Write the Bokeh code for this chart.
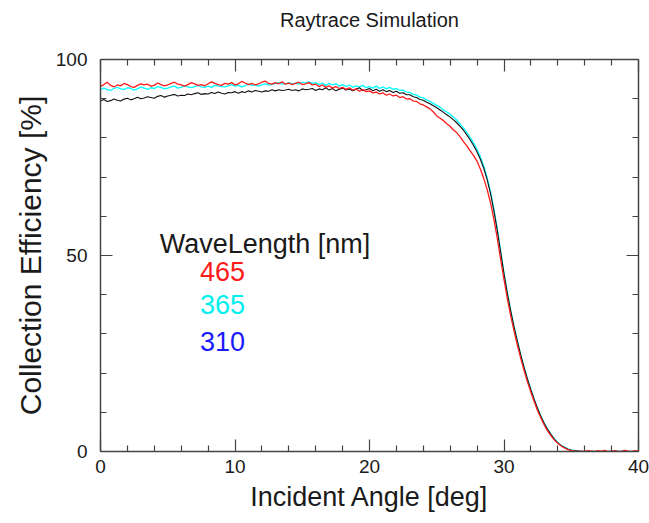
from bokeh.plotting import figure
from bokeh.models import LinearAxis, FixedTicker, Label, Range1d, CustomJSTickFormatter
from bokeh.embed import file_html
from bokeh.resources import INLINE

# ---------------- data ----------------
angle_step = 0.25
n_points = 161  # 0 .. 40 deg

eff_465 = [
    93.1, 93.6, 94.2, 93.4, 93.0, 93.5, 93.3, 93.9,
    93.6, 93.1, 92.9, 93.4, 93.8, 93.5, 93.7, 93.2,
    93.4, 94.0, 93.6, 93.3, 93.5, 93.9, 94.2, 93.7,
    93.5, 93.2, 93.6, 94.1, 93.8, 93.4, 93.6, 93.3,
    93.8, 94.3, 93.9, 93.6, 93.4, 93.9, 93.7, 94.1,
    93.5, 93.8, 94.4, 94.0, 93.6, 93.9, 93.5, 93.8,
    94.2, 94.5, 93.9, 93.7, 94.1, 93.8, 94.3, 93.7,
    94.0, 93.6, 93.9, 94.2, 93.6, 93.8, 94.1, 93.5,
    93.7, 93.1, 93.5, 92.9, 93.3, 92.7, 93.1, 92.6,
    92.9, 92.4, 92.8, 92.2, 92.5, 91.9, 92.3, 91.8,
    92.0, 91.5, 91.7, 91.2, 91.5, 90.9, 91.2, 90.7,
    90.9, 90.3, 90.5, 89.9, 90.0, 89.4, 89.3, 88.7,
    88.4, 87.9, 87.4, 86.6, 85.6, 85.0, 84.4, 83.6,
    82.9, 82.0, 81.3, 80.2, 79.0, 77.9, 76.6, 75.4,
    74.0, 72.0, 69.6, 66.8, 63.4, 59.2, 54.4, 49.0,
    43.9, 39.0, 34.6, 30.7, 27.1, 23.7, 20.6, 17.7,
    15.1, 12.7, 10.4, 8.5, 6.7, 5.2, 4.0, 2.9,
    2.1, 1.4, 0.9, 0.5, 0.3, 0.1, 0.0, 0.1,
    0.0, 0.2, 0.1, 0.0, 0.2, 0.1, 0.3, 0.0,
    0.1, 0.2, 0.0, 0.1, 0.3, 0.1, 0.0, 0.2,
    0.1,
]

eff_365 = [
    92.4, 92.7, 92.3, 92.1, 92.6, 92.9, 92.5, 92.4,
    92.8, 92.6, 92.2, 92.5, 93.0, 92.7, 92.4, 92.8,
    92.6, 93.1, 92.9, 92.5, 92.7, 93.0, 93.2, 92.7,
    92.9, 93.3, 93.0, 92.8, 93.1, 93.4, 93.0, 92.9,
    93.2, 92.9, 93.4, 93.3, 93.1, 93.0, 93.3, 93.6,
    93.2, 93.4, 93.0, 93.3, 93.7, 93.4, 93.5, 93.2,
    93.5, 93.8, 93.5, 93.6, 93.9, 94.1, 93.7, 93.8,
    94.1, 93.8, 94.0, 93.7, 94.2, 94.0, 94.3, 93.9,
    94.1, 93.6, 94.0, 93.4, 93.9, 93.5, 93.8, 93.2,
    93.6, 93.1, 93.5, 92.9, 93.3, 93.0, 93.4, 92.8,
    93.1, 92.7, 93.2, 92.6, 93.0, 92.5, 92.9, 92.4,
    92.6, 92.1, 92.2, 91.7, 91.6, 91.1, 90.9, 90.4,
    90.2, 89.7, 89.3, 88.8, 88.3, 87.8, 87.1, 86.6,
    86.0, 85.3, 84.5, 83.5, 82.5, 81.3, 80.0, 78.6,
    77.0, 75.1, 72.8, 69.8, 66.2, 61.8, 56.8, 51.2,
    45.6, 40.5, 36.0, 31.9, 28.2, 24.6, 21.5, 18.5,
    15.8, 13.3, 11.0, 9.0, 7.2, 5.7, 4.3, 3.2,
    2.3, 1.6, 1.1, 0.7, 0.4, 0.2, 0.1, 0.0,
    0.0, 0.0, 0.1, 0.0, 0.0, 0.0, 0.1, 0.0,
    0.0, 0.0, 0.0, 0.1, 0.0, 0.0, 0.0, 0.0,
    0.0,
]

eff_310 = [
    89.4, 89.8, 89.3, 89.5, 89.9, 89.6, 89.4, 89.9,
    90.1, 89.7, 90.0, 90.4, 90.0, 90.2, 90.5, 90.3,
    90.1, 90.6, 90.8, 90.4, 90.7, 90.9, 91.1, 90.7,
    90.9, 90.8, 91.2, 91.0, 91.3, 91.5, 91.1, 91.3,
    91.2, 91.6, 91.3, 91.7, 91.4, 91.2, 91.6, 91.5,
    91.8, 91.4, 91.8, 91.6, 92.0, 91.7, 92.1, 91.9,
    91.7, 92.0, 91.9, 92.3, 92.0, 92.3, 92.1, 92.2,
    92.4, 92.1, 92.3, 92.0, 92.5, 92.3, 92.4, 92.6,
    92.1, 92.5, 92.3, 92.8, 92.2, 92.6, 92.0, 92.4,
    92.7, 92.2, 92.5, 92.0, 92.4, 92.8, 92.1, 92.3,
    92.6, 92.0, 92.4, 91.9, 92.3, 91.8, 92.1, 91.6,
    91.9, 91.4, 91.5, 91.0, 91.0, 90.5, 90.3, 89.8,
    89.6, 89.1, 88.7, 88.2, 87.7, 87.1, 86.5, 85.9,
    85.3, 84.6, 83.8, 82.9, 81.9, 80.7, 79.4, 78.0,
    76.4, 74.5, 72.2, 69.3, 65.8, 61.4, 56.4, 50.9,
    45.3, 40.3, 35.8, 31.7, 28.0, 24.5, 21.3, 18.4,
    15.7, 13.2, 10.9, 8.9, 7.1, 5.6, 4.3, 3.1,
    2.2, 1.5, 1.0, 0.6, 0.3, 0.2, 0.1, 0.0,
    0.0, 0.0, 0.0, 0.0, 0.0, 0.0, 0.0, 0.0,
    0.0, 0.0, 0.0, 0.0, 0.0, 0.0, 0.0, 0.0,
    0.0,
]

angles = [i * angle_step for i in range(n_points)]

title_text = "Raytrace Simulation"
wavelengths = ["465", "365", "310"]
x_ticks = [0, 10, 20, 30, 40]
x_minor_ticks = [2, 4, 6, 8, 12, 14, 16, 18, 22, 24, 26, 28, 32, 34, 36, 38]
y_ticks = [0, 50, 100]
y_minor_ticks = [10, 20, 30, 40, 60, 70, 80, 90]

# ---------------- figure ----------------
FONT = "Liberation Sans"
AX_COLOR = "#444444"
TXT = "#1a1a1a"

p = figure(width=649, height=523, output_backend="svg", toolbar_location=None, title=None,
           x_range=Range1d(0, 40), y_range=Range1d(0, 100),
           min_border_left=100, min_border_right=11, min_border_top=59, min_border_bottom=72)
p.background_fill_color = "white"
p.border_fill_color = "white"
p.outline_line_color = None
p.xgrid.visible = False
p.ygrid.visible = False

xt = FixedTicker(ticks=x_ticks, minor_ticks=x_minor_ticks)
yt = FixedTicker(ticks=y_ticks, minor_ticks=y_minor_ticks)


def style_axis(ax, show_labels):
    ax.axis_line_color = AX_COLOR
    ax.axis_line_width = 1.5
    ax.major_tick_line_color = AX_COLOR
    ax.minor_tick_line_color = AX_COLOR
    ax.major_tick_line_width = 1.2
    ax.minor_tick_line_width = 1.2
    ax.major_tick_in = 12
    ax.major_tick_out = 0
    ax.minor_tick_in = 6
    ax.minor_tick_out = 0
    ax.axis_label_text_font = FONT
    ax.axis_label_text_font_style = "normal"
    ax.axis_label_text_color = TXT
    if show_labels:
        ax.major_label_text_font = FONT
        ax.major_label_text_font_size = "19px"
        ax.major_label_text_color = TXT


xa = p.xaxis[0]
xa.ticker = xt
xa.axis_label = "Incident Angle [deg]"
style_axis(xa, True)
xa.axis_label_text_font_size = "27px"
xa.major_label_standoff = 8
xa.axis_label_standoff = 6

ya = p.yaxis[0]
ya.ticker = yt
ya.axis_label = "Collection Efficiency [%]"
style_axis(ya, True)
ya.axis_label_text_font_size = "30px"
ya.major_label_standoff = 13
ya.axis_label_standoff = 6

blank = CustomJSTickFormatter(code="return ''")
# top axis: inward ticks, its label carries the chart title
top_ax = LinearAxis(ticker=FixedTicker(ticks=x_ticks, minor_ticks=x_minor_ticks),
                    formatter=blank, major_label_standoff=0, major_label_text_font_size="0px")
style_axis(top_ax, False)
top_ax.axis_label = title_text
top_ax.axis_label_text_font_size = "20px"
top_ax.axis_label_standoff = 29
p.add_layout(top_ax, "above")
right_ax = LinearAxis(ticker=FixedTicker(ticks=y_ticks, minor_ticks=y_minor_ticks),
                      formatter=blank, major_label_standoff=0, major_label_text_font_size="0px")
style_axis(right_ax, False)
p.add_layout(right_ax, "right")

# curves
p.line(angles, eff_365, line_color="#00ffff", line_width=1.3)
p.line(angles, eff_310, line_color="#111111", line_width=1.1)
p.line(angles, eff_465, line_color="#ff1a1a", line_width=1.3)

# legend text
p.add_layout(Label(x=4.4, y=53.0, text="WaveLength [nm]", text_font=FONT,
                   text_font_size="27px", text_color=TXT, text_baseline="alphabetic"))
legend_colors = ["#ff1a1a", "#00f0f0", "#1a1aff"]
legend_y = [46.0, 37.4, 28.0]
for lab, col, yy in zip(wavelengths, legend_colors, legend_y):
    p.add_layout(Label(x=7.4, y=yy, text=lab, text_font=FONT, text_font_size="27px",
                       text_color=col, text_baseline="alphabetic"))

open("out.html", "w").write(file_html(p, INLINE))
